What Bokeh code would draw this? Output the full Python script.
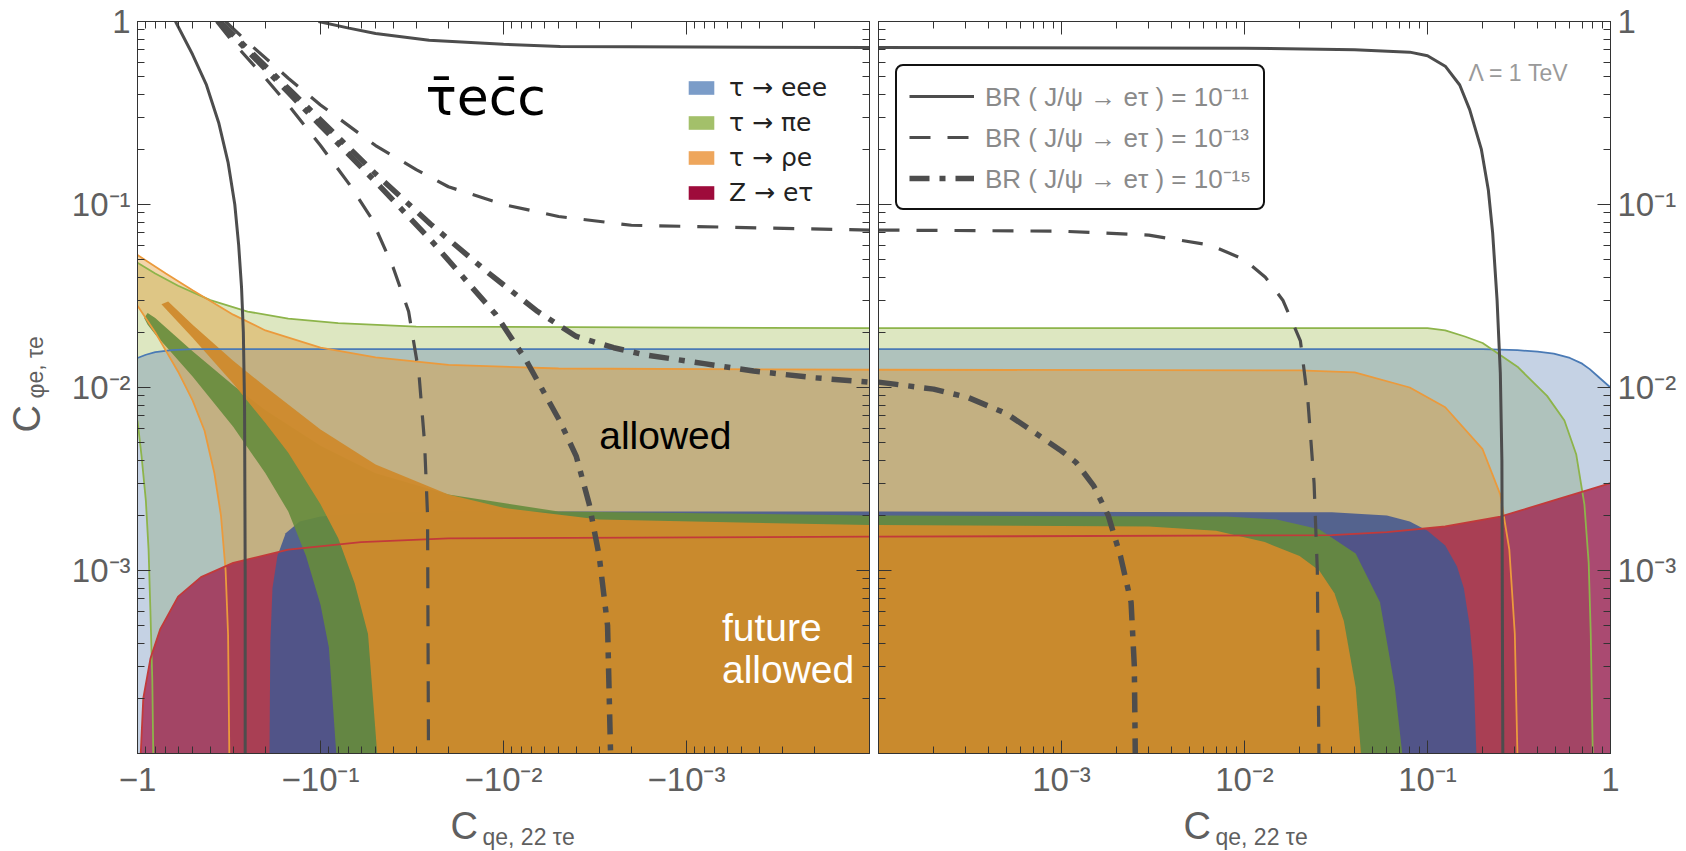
from bokeh.plotting import figure
from bokeh.models import Range1d, LogAxis, FixedTicker, Legend, LegendItem, Label
from bokeh.layouts import row, column
from bokeh.embed import file_html
from bokeh.resources import INLINE

# ---------------- axis ranges / ticks ----------------
Y_MIN, Y_MAX = 1e-4, 1.0
X_MIN, X_MAX = 1e-4, 1.0
decades = [1e-4, 1e-3, 1e-2, 1e-1]
major_ticks = [1e-4, 1e-3, 1e-2, 1e-1, 1.0]
minor_ticks = [d * k for d in decades for k in range(2, 10)]
y_tick_labels = {1e-4: "", 1e-3: "10⁻³", 1e-2: "10⁻²", 1e-1: "10⁻¹", 1.0: "1"}
xL_tick_labels = {1e-4: "", 1e-3: "−10⁻³", 1e-2: "−10⁻²", 1e-1: "−10⁻¹", 1.0: "−1"}
xR_tick_labels = {1e-4: "", 1e-3: "10⁻³", 1e-2: "10⁻²", 1e-1: "10⁻¹", 1.0: "1"}

# ---------------- data ----------------
# x < 0 : left panel,  x > 0 : right panel ; y = C_{phi e, tau e}
# present bound tau -> eee (upper edge)
eee_now_L_x = [-1.0, -0.9, -0.8, -0.65, -0.5, -0.3, -0.1, -1e-4]
eee_now_L_y = [0.0145, 0.0151, 0.0156, 0.0160, 0.0162, 0.0162, 0.0162, 0.0162]
eee_now_R_x = [1e-4, 0.1, 0.2, 0.31, 0.4, 0.49, 0.6, 0.7, 0.77, 0.87, 1.0]
eee_now_R_y = [0.0162, 0.0162, 0.0162, 0.0160, 0.0157, 0.0153, 0.0145, 0.0135, 0.0126, 0.0113, 0.0100]

# present bound tau -> pi e
pie_now_L_x = [-1.0, -0.8, -0.6, -0.4, -0.25, -0.15, -0.08, -0.03, -1e-4]
pie_now_L_y = [0.048, 0.042, 0.036, 0.030, 0.026, 0.0238, 0.0225, 0.0215, 0.0211]
pie_now_Llo_x = [-1.0, -0.95, -0.9, -0.87, -0.85, -0.83, -0.82]
pie_now_Llo_y = [0.0066, 0.0042, 0.0024, 0.0013, 6e-4, 2.5e-4, 1e-4]
pie_now_R_x = [1e-4, 0.1, 0.125, 0.16, 0.2, 0.31, 0.45, 0.56, 0.65, 0.72, 0.76, 0.78, 0.8]
pie_now_R_y = [0.0211, 0.0211, 0.0205, 0.019, 0.0175, 0.013, 0.009, 0.0066, 0.0043, 0.0023, 0.0011, 4.5e-4, 1e-4]

# present bound tau -> rho e
rhoe_now_L_x = [-1.0, -0.7, -0.5, -0.3, -0.2, -0.1, -0.05, -0.02, -0.005, -1e-4]
rhoe_now_L_y = [0.053, 0.042, 0.034, 0.025, 0.0205, 0.0165, 0.0146, 0.0133, 0.0127, 0.0125]
rhoe_now_Llo_x = [-1.0, -0.8, -0.6, -0.5, -0.43, -0.38, -0.35, -0.33, -0.32, -0.315]
rhoe_now_Llo_y = [0.028, 0.020, 0.0122, 0.0085, 0.0058, 0.0034, 0.0020, 0.0010, 4.5e-4, 1e-4]
rhoe_now_R_x = [1e-4, 0.02, 0.04, 0.08, 0.125, 0.2, 0.25, 0.28, 0.3, 0.31]
rhoe_now_R_y = [0.0125, 0.0124, 0.0121, 0.0100, 0.0078, 0.0046, 0.0026, 0.0013, 4.5e-4, 1e-4]

# Z -> e tau
Z_L_x = [-0.96, -0.93, -0.85, -0.75, -0.6, -0.45, -0.3, -0.15, -0.06, -0.02, -1e-4]
Z_L_y = [1e-4, 2e-4, 3.3e-4, 4.8e-4, 7.2e-4, 9.2e-4, 1.1e-3, 1.3e-3, 1.43e-3, 1.5e-3, 1.53e-3]
Z_R_x = [1e-4, 0.03, 0.06, 0.125, 0.25, 0.5, 0.75, 1.0]
Z_R_y = [1.53e-3, 1.56e-3, 1.62e-3, 1.74e-3, 1.97e-3, 2.43e-3, 2.75e-3, 3.0e-3]

# future tau -> eee
eee_fut_L_x = [-0.19, -0.188, -0.183, -0.172, -0.155, -0.13, -0.1, -0.06, -0.02, -1e-4]
eee_fut_L_y = [1e-4, 4e-4, 8e-4, 1.2e-3, 1.6e-3, 1.85e-3, 1.97e-3, 2.05e-3, 2.1e-3, 2.1e-3]
eee_fut_R_x = [1e-4, 0.03, 0.06, 0.08, 0.1, 0.125, 0.145, 0.158, 0.17, 0.178, 0.185]
eee_fut_R_y = [2.1e-3, 2.08e-3, 2.0e-3, 1.85e-3, 1.65e-3, 1.37e-3, 1.05e-3, 8e-4, 5e-4, 3e-4, 1e-4]

# future tau -> pi e  (band: upper edge tip->0, lower edge tip->bottom)
pie_fut_L_x = [-0.92, -0.88, -0.8, -0.7, -0.5, -0.3, -0.2, -0.1, -0.05, -0.02, -0.005, -1e-4]
pie_fut_L_y = [0.024, 0.0255, 0.024, 0.0213, 0.0158, 0.0103, 0.0075, 0.0048, 0.0034, 0.0026, 0.0021, 0.0020]
pie_fut_Llo_x = [-0.92, -0.88, -0.8, -0.7, -0.5, -0.3, -0.2, -0.15, -0.12, -0.1, -0.09, -0.082]
pie_fut_Llo_y = [0.024, 0.022, 0.0195, 0.0168, 0.0115, 0.0061, 0.0034, 0.0021, 0.0012, 6.5e-4, 3.8e-4, 1e-4]
pie_fut_R_x = [1e-4, 0.008, 0.015, 0.0256, 0.0405, 0.055, 0.0663, 0.0728]
pie_fut_R_y = [2.0e-3, 1.97e-3, 1.9e-3, 1.68e-3, 1.24e-3, 6.7e-4, 2.3e-4, 1e-4]

# future tau -> rho e
rhoe_fut_L_x = [-0.74, -0.68, -0.5, -0.3, -0.2, -0.1, -0.05, -0.02, -0.01, -0.003, -1e-4]
rhoe_fut_L_y = [0.0285, 0.0295, 0.022, 0.014, 0.0101, 0.0059, 0.0038, 0.0026, 0.0022, 0.0019, 0.00177]
rhoe_fut_Llo_x = [-0.74, -0.68, -0.5, -0.3, -0.2, -0.15, -0.1, -0.08, -0.065, -0.055, -0.049]
rhoe_fut_Llo_y = [0.0285, 0.026, 0.0187, 0.0105, 0.0064, 0.0044, 0.0023, 0.0015, 8.5e-4, 4.5e-4, 1e-4]
rhoe_fut_R_x = [1e-4, 0.003, 0.007, 0.0129, 0.02, 0.0256, 0.031, 0.0349, 0.0405, 0.0433]
rhoe_fut_R_y = [1.77e-3, 1.74e-3, 1.65e-3, 1.43e-3, 1.2e-3, 1.0e-3, 7.5e-4, 5.3e-4, 2.3e-4, 1e-4]

# BR(J/psi -> e tau) contours
br11_LA_x = [-0.62, -0.5, -0.42, -0.36, -0.32, -0.294, -0.28, -0.27, -0.264, -0.26, -0.258, -0.258]
br11_LA_y = [1.0, 0.66, 0.45, 0.28, 0.17, 0.1, 0.06, 0.035, 0.02, 0.008, 0.001, 1e-4]
br11_LB_x = [-0.1026, -0.07, -0.05, -0.0255, -0.01, -0.0049, -1e-4]
br11_LB_y = [1.0, 0.92, 0.86, 0.79, 0.75, 0.73, 0.72]
br11_R_x = [1e-4, 0.01, 0.04, 0.08, 0.1, 0.125, 0.15, 0.17, 0.197, 0.215, 0.227, 0.24, 0.25, 0.255, 0.258]
br11_R_y = [0.72, 0.715, 0.70, 0.68, 0.65, 0.57, 0.45, 0.33, 0.2, 0.12, 0.07, 0.03, 0.012, 0.004, 1e-4]

br13_LA_x = [-0.37, -0.3, -0.2, -0.15, -0.1, -0.07, -0.053, -0.04, -0.033, -0.029, -0.027, -0.026, -0.0257]
br13_LA_y = [1.0, 0.77, 0.49, 0.35, 0.21, 0.13, 0.085, 0.045, 0.026, 0.012, 0.005, 0.002, 1e-4]
br13_LB_x = [-0.33, -0.25, -0.15, -0.1, -0.05, -0.03, -0.02, -0.01, -0.005, -0.002, -1e-4]
br13_LB_y = [1.0, 0.77, 0.49, 0.35, 0.21, 0.155, 0.125, 0.1, 0.086, 0.077, 0.0725]
br13_R_x = [1e-4, 0.001, 0.003, 0.0065, 0.01, 0.013, 0.0162, 0.0202, 0.0222, 0.024, 0.025, 0.0255]
br13_R_y = [0.0725, 0.0715, 0.068, 0.06, 0.05, 0.04, 0.03, 0.018, 0.0085, 0.003, 0.001, 1e-4]

br15_LA_x = [-0.36, -0.25, -0.15, -0.1, -0.05, -0.025, -0.011, -0.0075, -0.0049, -0.004, -0.0034, -0.003, -0.0027, -0.0026]
br15_LA_y = [1.0, 0.69, 0.41, 0.27, 0.133, 0.064, 0.025, 0.014, 0.0065, 0.0042, 0.0023, 0.0012, 5e-4, 1e-4]
br15_LB_x = [-0.355, -0.25, -0.15, -0.1, -0.05, -0.025, -0.012, -0.0065, -0.004, -0.0025, -0.0017, -8e-4, -4.3e-4, -2e-4, -1e-4]
br15_LB_y = [1.0, 0.71, 0.43, 0.29, 0.147, 0.078, 0.042, 0.026, 0.019, 0.0165, 0.0151, 0.0135, 0.0123, 0.0113, 0.0107]
br15_R_x = [1e-4, 2e-4, 3.1e-4, 5e-4, 6.9e-4, 0.001, 0.0012, 0.0015, 0.0018, 0.0021, 0.0024, 0.0025, 0.00253]
br15_R_y = [0.0107, 0.0098, 0.0088, 0.0072, 0.0058, 0.0045, 0.0039, 0.0029, 0.002, 0.0012, 6.7e-4, 3e-4, 1e-4]

legend_fill_labels = ["τ → eee", "τ → πe", "τ → ρe", "Z → eτ"]
legend_line_labels = ["BR ( J/ψ → eτ ) = 10⁻¹¹", "BR ( J/ψ → eτ ) = 10⁻¹³", "BR ( J/ψ → eτ ) = 10⁻¹⁵"]

# ---------------- styles ----------------
C_BLUE, C_GREEN, C_ORANGE, C_RED = "#5e81b5", "#8fb032", "#e1962a", "#9e1040"
A_BLUE, A_GREEN, A_ORANGE, A_RED = 0.36, 0.3, 0.4, 0.7
L_BLUE, L_GREEN, L_ORANGE, L_RED = "#4a7ab5", "#8db44a", "#eb9a3c", "#c23a3a"
F_BLUE, F_GREEN, F_ORANGE = "#44588f", "#668c3c", "#cf8a2c"
SW_COLORS = ["#7b9cc8", "#a3c06a", "#eea65c", "#9e0b3b"]
BR_COLOR = "#4d4d4d"
FRAME = "#333333"
TICK_FONT = "Liberation Sans"
NAN = float("nan")

FRAME_W, FRAME_H = 732, 732
B_TOP, B_BOTTOM = 21, 52
W_YTITLE = 50          # strip holding the rotated y title
H_XTITLE = 851 - (B_TOP + FRAME_H + B_BOTTOM)   # strip holding the x titles


def neg(xs):
    return [-v for v in xs]


def left_poly(ux, uy, lx=None, ly=None):
    xs = list(ux) + [ux[-1]]
    ys = list(uy) + [Y_MIN]
    if lx is None:
        xs += [ux[0]]
        ys += [Y_MIN]
    else:
        xs += list(lx[::-1])
        ys += list(ly[::-1])
    return neg(xs), ys


def right_poly(ux, uy):
    return list(ux) + [ux[-1], ux[0]], list(uy) + [Y_MIN, Y_MIN]


def add_axis(p, place, labels):
    ax = LogAxis(ticker=FixedTicker(ticks=major_ticks, minor_ticks=minor_ticks))
    ax.major_tick_in = 13
    ax.major_tick_out = 0
    ax.minor_tick_in = 7
    ax.minor_tick_out = 0
    ax.axis_line_color = FRAME
    ax.major_tick_line_color = FRAME
    ax.minor_tick_line_color = FRAME
    ax.major_tick_line_width = 1
    ax.minor_tick_line_width = 1
    if labels is None:
        ax.major_label_text_font_size = "0px"
        ax.major_label_standoff = 0
        ax.major_label_text_alpha = 0
    else:
        ax.major_label_overrides = labels
        ax.major_label_text_font = TICK_FONT
        ax.major_label_text_font_size = "33px"
        ax.major_label_text_color = "#5f5f5f"
        ax.major_label_standoff = 7
    p.add_layout(ax, place)
    return ax


def make_fig(x_range, mb_left, mb_right):
    p = figure(x_axis_type="log", y_axis_type="log", x_range=x_range,
               y_range=Range1d(Y_MIN, Y_MAX), frame_width=FRAME_W, frame_height=FRAME_H,
               min_border_left=mb_left, min_border_right=mb_right,
               min_border_top=B_TOP, min_border_bottom=B_BOTTOM, title=None,
               x_axis_location=None, y_axis_location=None,
               output_backend="svg", toolbar_location=None)
    p.grid.visible = False
    p.outline_line_color = FRAME
    p.outline_line_width = 1
    p.background_fill_color = "white"
    p.border_fill_color = "white"
    return p


def make_strip(fw, fh, top=0, bottom=0):
    s = figure(frame_width=fw, frame_height=fh, x_range=Range1d(0, 1), y_range=Range1d(0, 1),
               min_border_left=0, min_border_right=0, min_border_top=top, min_border_bottom=bottom,
               title=None, x_axis_location=None, y_axis_location=None,
               output_backend="svg", toolbar_location=None)
    s.grid.visible = False
    s.outline_line_color = None
    s.background_fill_color = "white"
    s.border_fill_color = "white"
    return s


pL = make_fig(Range1d(X_MAX, X_MIN), 137 - W_YTITLE, 4)
pR = make_fig(Range1d(X_MIN, X_MAX), 5, 76)

add_axis(pL, "below", xL_tick_labels)
add_axis(pL, "left", y_tick_labels)
add_axis(pL, "above", None)
add_axis(pL, "right", None)
add_axis(pR, "below", xR_tick_labels)
add_axis(pR, "right", y_tick_labels)
add_axis(pR, "above", None)
add_axis(pR, "left", None)

# ---------------- left panel fills ----------------
pL.patch(*left_poly(pie_now_L_x, pie_now_L_y, pie_now_Llo_x, pie_now_Llo_y), fill_color=C_GREEN, fill_alpha=A_GREEN, line_color=None)
pL.patch(*left_poly(eee_now_L_x, eee_now_L_y), fill_color=C_BLUE, fill_alpha=A_BLUE, line_color=None)
pL.patch(*left_poly(rhoe_now_L_x, rhoe_now_L_y, rhoe_now_Llo_x, rhoe_now_Llo_y), fill_color=C_ORANGE, fill_alpha=A_ORANGE, line_color=None)
pL.patch(*left_poly(Z_L_x, Z_L_y), fill_color=C_RED, fill_alpha=A_RED, line_color=None)
pL.patch(*left_poly(eee_fut_L_x, eee_fut_L_y), fill_color=F_BLUE, fill_alpha=0.88, line_color=None)
pL.patch(*left_poly(pie_fut_L_x, pie_fut_L_y, pie_fut_Llo_x, pie_fut_Llo_y), fill_color=F_GREEN, fill_alpha=0.9, line_color=None)
pL.patch(*left_poly(rhoe_fut_L_x, rhoe_fut_L_y, rhoe_fut_Llo_x, rhoe_fut_Llo_y), fill_color=F_ORANGE, fill_alpha=0.95, line_color=None)

for xs, ys, c in [(eee_now_L_x, eee_now_L_y, L_BLUE),
                  (pie_now_L_x, pie_now_L_y, L_GREEN), (pie_now_Llo_x, pie_now_Llo_y, L_GREEN),
                  (rhoe_now_L_x, rhoe_now_L_y, L_ORANGE), (rhoe_now_Llo_x, rhoe_now_Llo_y, L_ORANGE),
                  (Z_L_x, Z_L_y, L_RED)]:
    pL.line(neg(xs), ys, line_color=c, line_width=1.8)

# ---------------- right panel fills ----------------
pR.patch(*right_poly(pie_now_R_x, pie_now_R_y), fill_color=C_GREEN, fill_alpha=A_GREEN, line_color=None)
pR.patch(*right_poly(eee_now_R_x, eee_now_R_y), fill_color=C_BLUE, fill_alpha=A_BLUE, line_color=None)
pR.patch(*right_poly(rhoe_now_R_x, rhoe_now_R_y), fill_color=C_ORANGE, fill_alpha=A_ORANGE, line_color=None)
pR.patch(*right_poly(Z_R_x, Z_R_y), fill_color=C_RED, fill_alpha=A_RED, line_color=None)
pR.patch(*right_poly(eee_fut_R_x, eee_fut_R_y), fill_color=F_BLUE, fill_alpha=0.88, line_color=None)
pR.patch(*right_poly(pie_fut_R_x, pie_fut_R_y), fill_color=F_GREEN, fill_alpha=0.9, line_color=None)
pR.patch(*right_poly(rhoe_fut_R_x, rhoe_fut_R_y), fill_color=F_ORANGE, fill_alpha=0.95, line_color=None)
for xs, ys, c in [(eee_now_R_x, eee_now_R_y, L_BLUE), (pie_now_R_x, pie_now_R_y, L_GREEN),
                  (rhoe_now_R_x, rhoe_now_R_y, L_ORANGE), (Z_R_x, Z_R_y, L_RED)]:
    pR.line(xs, ys, line_color=c, line_width=1.8)

# ---------------- BR contours ----------------
SOLID = dict(line_color=BR_COLOR, line_width=3)
DASH = dict(line_color=BR_COLOR, line_width=3.2, line_dash="21 17")
DDOT = dict(line_color=BR_COLOR, line_width=5.5, line_dash="20 10 6 10")
for xs, ys, st in [(br11_LA_x, br11_LA_y, SOLID), (br11_LB_x, br11_LB_y, SOLID),
                   (br13_LA_x, br13_LA_y, DASH), (br13_LB_x, br13_LB_y, DASH),
                   (br15_LA_x, br15_LA_y, DDOT), (br15_LB_x, br15_LB_y, DDOT)]:
    pL.line(neg(xs), ys, **st)
r11 = pR.line(br11_R_x, br11_R_y, **SOLID)
r13 = pR.line(br13_R_x, br13_R_y, **DASH)
r15 = pR.line(br15_R_x, br15_R_y, **DDOT)

# ---------------- legends ----------------
sw = [pL.patch(x=[NAN], y=[NAN], fill_color=c, line_color=None) for c in SW_COLORS]
leg1 = Legend(items=[LegendItem(label=t, renderers=[r]) for t, r in zip(legend_fill_labels, sw)],
              location=(538, 536), glyph_width=32, glyph_height=17, label_standoff=12,
              spacing=6, padding=10, label_text_font_size="25px", label_text_color="#222222",
              label_text_font="DejaVu Sans", border_line_alpha=0, background_fill_alpha=0)
pL.add_layout(leg1)

leg2 = Legend(items=[LegendItem(label=t, renderers=[r]) for t, r in zip(legend_line_labels, [r11, r13, r15])],
              location=(17, 543), glyph_width=65, glyph_height=20, label_standoff=11,
              spacing=5, padding=12, label_text_font_size="26px", label_text_color="#8a8a8a",
              label_text_font="Liberation Sans", border_line_color="#111111", border_line_width=2,
              border_line_alpha=1, background_fill_color="white", background_fill_alpha=1)
if "border_radius" in Legend.properties():
    leg2.border_radius = 8
pR.add_layout(leg2)

# ---------------- texts inside the frames ----------------
pL.add_layout(Label(x=0.0267, y=0.386, text="τ̄ec̄c", text_font="DejaVu Sans", text_font_size="52px",
                    text_color="black", text_baseline="middle"))
pL.add_layout(Label(x=0.0030, y=0.0055, text="allowed", text_font="Liberation Sans", text_font_size="39px",
                    text_color="black", text_baseline="middle"))
pL.add_layout(Label(x=6.4e-4, y=4.9e-4, text="future", text_font="Liberation Sans", text_font_size="39px",
                    text_color="white", text_baseline="middle"))
pL.add_layout(Label(x=6.4e-4, y=2.86e-4, text="allowed", text_font="Liberation Sans", text_font_size="39px",
                    text_color="white", text_baseline="middle"))
pR.add_layout(Label(x=0.1675, y=0.523, text="Λ = 1 TeV", text_font="Liberation Sans", text_font_size="23px",
                    text_color="#9a9a9a", text_baseline="middle"))

# ---------------- axis titles in their own strips ----------------
TITLE = dict(x_units="screen", y_units="screen", text_font="Liberation Sans", text_color="#5f5f5f",
             text_baseline="middle")
# y title strip: frame aligned with the plot frames (screen y measured from the frame bottom)
ytitle = make_strip(W_YTITLE, FRAME_H, B_TOP, B_BOTTOM)
ytitle.add_layout(Label(x=26, y=B_TOP + FRAME_H - 432, text="C", angle=1.5708, text_font_size="38px", **TITLE))
ytitle.add_layout(Label(x=35, y=B_TOP + FRAME_H - 398, text="φe, τe", angle=1.5708, text_font_size="23px", **TITLE))

xtitle = make_strip(1686, H_XTITLE)
xtitle.add_layout(Label(x=450, y=26, text="C", text_font_size="38px", **TITLE))
xtitle.add_layout(Label(x=482, y=15, text="qe, 22 τe", text_font_size="23px", **TITLE))
xtitle.add_layout(Label(x=1183, y=26, text="C", text_font_size="38px", **TITLE))
xtitle.add_layout(Label(x=1215, y=15, text="qe, 22 τe", text_font_size="23px", **TITLE))

layout = column(row(ytitle, pL, pR), xtitle)
open("out.html", "w").write(file_html(layout, INLINE))
